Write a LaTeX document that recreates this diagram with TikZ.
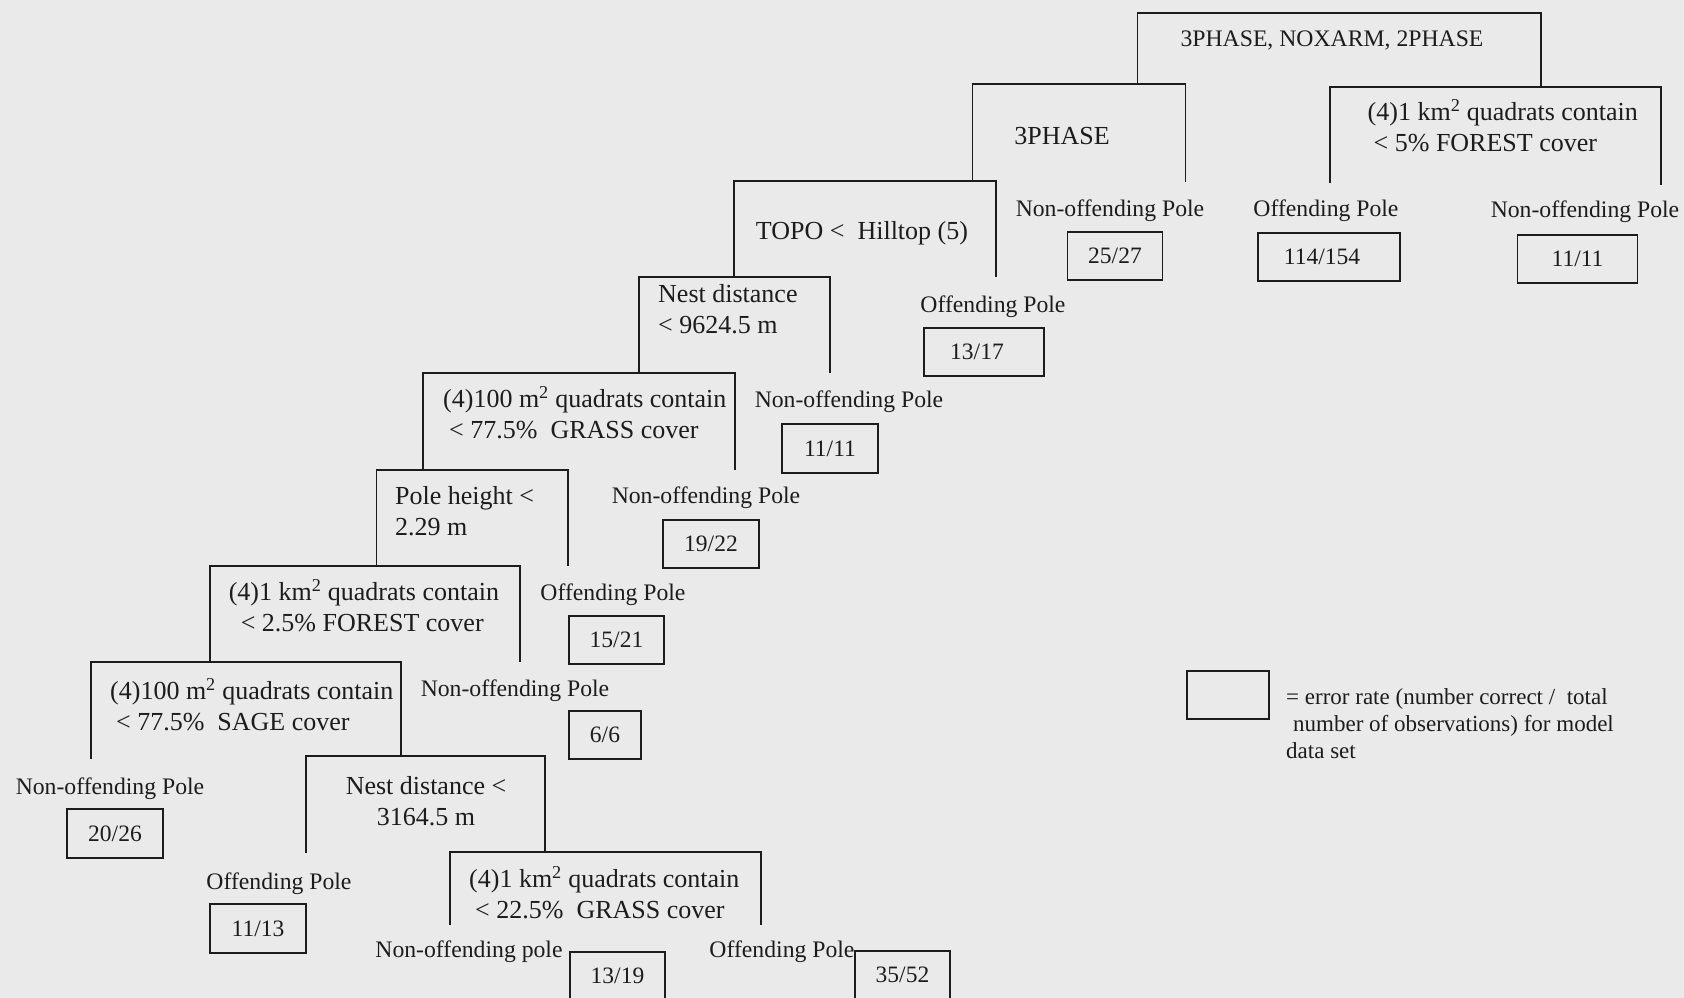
\documentclass[tikz,border=0pt]{standalone}
\usepackage{fontspec}
\setmainfont{Liberation Serif}
\definecolor{ink}{RGB}{28,28,28}
\definecolor{paper}{RGB}{234,234,234}
\newcommand{\treesplit}[6]{%
  \coordinate (#1-lb) at (#2,#5);
  \coordinate (#1-lt) at (#2,#4);
  \coordinate (#1-rt) at (#3,#4);
  \coordinate (#1-rb) at (#3,#6);
  \draw[branch] (#1-lb) -- (#1-lt) -- (#1-rt) -- (#1-rb);}
\tikzset{
  branch/.style={draw=ink, line width=1.7pt},
  leaf/.style={font=\fontsize{23.7}{28}\selectfont, inner sep=0pt, text=ink},
  splittext/.style={font=\fontsize{26}{31}\selectfont, inner sep=0pt, align=left, text=ink},
  errbox/.style={draw=ink, line width=1.7pt, inner sep=0pt, font=\fontsize{23.5}{28}\selectfont, text=ink},
  legendtext/.style={font=\fontsize{23}{27}\selectfont, inner sep=0pt, align=left, text=ink}
}
\begin{document}
\begin{tikzpicture}[x=1pt,y=-1pt]
\fill[paper] (0,0) rectangle (1684,998);
\useasboundingbox (0,0) rectangle (1684,998);

% splits: name, left x, right x, top y, left bottom y, right bottom y
\treesplit{s0}{1137.5}{1541}{13}{84}{87}
\treesplit{s1}{972.5}{1185.5}{84}{181}{182}
\treesplit{s2}{1330}{1661}{87}{183}{185}
\treesplit{s3}{734}{996}{181}{277}{277}
\treesplit{s4}{639}{830}{277}{373}{373}
\treesplit{s5}{423}{735}{373}{470}{470}
\treesplit{s6}{376.5}{568}{470}{566}{566}
\treesplit{s7}{210}{520}{566}{662}{662}
\treesplit{s8}{91}{401}{662}{759}{756}
\treesplit{s9}{306}{545}{756}{853}{851}
\treesplit{s10}{450}{761}{852}{925}{925}

% split texts
\node[leaf] (t0) at (1332,40) {3PHASE, NOXARM, 2PHASE};
\node[splittext] (t1) at (1062,136) {3PHASE};
\node[splittext, anchor=west] (t2) at (1367.5,126) {(4)1 km\textsuperscript{2} quadrats contain\\\hspace*{6pt}< 5\% FOREST cover};
\node[splittext] (t3) at (862,233) {TOPO <\ \ Hilltop (5)};
\node[splittext, anchor=west] (t4) at (658,309) {Nest distance\\< 9624.5 m};
\node[splittext, anchor=west] (t5) at (443,413) {(4)100 m\textsuperscript{2} quadrats contain\\\hspace*{6pt}< 77.5\%\ \ GRASS cover};
\node[splittext, anchor=west] (t6) at (395,511) {Pole height <\\2.29 m};
\node[splittext, anchor=west] (t7) at (228.6,606) {(4)1 km\textsuperscript{2} quadrats contain\\\hspace*{12pt}< 2.5\% FOREST cover};
\node[splittext, anchor=west] (t8) at (110,705) {(4)100 m\textsuperscript{2} quadrats contain\\\hspace*{6pt}< 77.5\%\ \ SAGE cover};
\node[splittext, align=center] (t9) at (426,801) {Nest distance <\\3164.5 m};
\node[splittext, anchor=west] (t10) at (469,893) {(4)1 km\textsuperscript{2} quadrats contain\\\hspace*{6pt}< 22.5\%\ \ GRASS cover};

% leaf labels
\node[leaf] (l1) at (1110,211) {Non-offending Pole};
\node[leaf] (l2) at (1326,211) {Offending Pole};
\node[leaf] (l3) at (1585,212) {Non-offending Pole};
\node[leaf] (l4) at (993,307) {Offending Pole};
\node[leaf] (l5) at (849,402) {Non-offending Pole};
\node[leaf] (l6) at (706,498) {Non-offending Pole};
\node[leaf] (l7) at (613,595) {Offending Pole};
\node[leaf] (l8) at (515,691) {Non-offending Pole};
\node[leaf] (l9) at (110,789) {Non-offending Pole};
\node[leaf] (l10) at (279,884) {Offending Pole};
\node[leaf] (l11) at (469,952) {Non-offending pole};
\node[leaf] (l12) at (782,952) {Offending Pole};

% error-rate boxes
\node[errbox, minimum width=95pt, minimum height=48pt] (b1) at (1115,256) {25/27};
\node[errbox, minimum width=142pt, minimum height=48pt] (b2) at (1329,257) {114/154\hspace*{14pt}};
\node[errbox, minimum width=120pt, minimum height=48pt] (b3) at (1577.5,259) {11/11};
\node[errbox, minimum width=119.5pt, minimum height=48pt] (b4) at (984,352) {13/17\hspace*{14pt}};
\node[errbox, minimum width=96pt, minimum height=49pt] (b5) at (830,448.5) {11/11};
\node[errbox, minimum width=96pt, minimum height=48pt] (b6) at (711,544) {19/22};
\node[errbox, minimum width=95pt, minimum height=48pt] (b7) at (616.5,640) {15/21};
\node[errbox, minimum width=72pt, minimum height=48pt] (b8) at (605,735) {6/6};
\node[errbox, minimum width=96pt, minimum height=49pt] (b9) at (115,833.5) {20/26};
\node[errbox, minimum width=96pt, minimum height=49pt] (b10) at (258,928.5) {11/13};
\node[errbox, minimum width=95pt, minimum height=48pt] (b11) at (617.5,976) {13/19};
\node[errbox, minimum width=95pt, minimum height=48pt] (b12) at (902.5,975) {35/52};

% legend
\node[errbox, minimum width=81.5pt, minimum height=48pt] (lg) at (1228,695) {};
\node[legendtext, anchor=west] (lgt) at (1286,724) {= error rate (number correct /\ \ total\\\hspace*{7pt}number of observations) for model\\data set};
\end{tikzpicture}
\end{document}
